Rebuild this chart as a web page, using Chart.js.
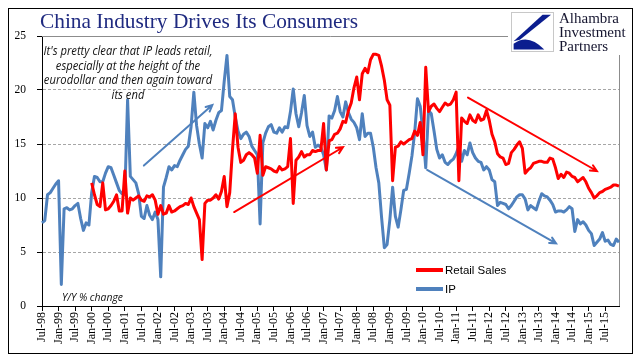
<!DOCTYPE html>
<html lang="en">
<head>
<meta charset="UTF-8">
<title>China Industry Drives Its Consumers</title>
<style>
  html, body { margin: 0; padding: 0; background: #fff; }
  canvas { display: block; }
</style>
</head>
<body>
<canvas id="chart" width="641" height="361"></canvas>
<script src="https://cdn.jsdelivr.net/npm/chart.js"></script>
<script>
// monthly categories, Jul-98 .. Dec-15
const monthNames = ['Jan','Feb','Mar','Apr','May','Jun','Jul','Aug','Sep','Oct','Nov','Dec'];
const categories = [];
for (let y = 1998; y <= 2015; y++) {
  for (let m = (y === 1998 ? 6 : 0); m < 12; m++) {
    categories.push(monthNames[m] + '-' + String(y % 100).padStart(2, '0'));
  }
}

// Y/Y % change
const industrialProduction = [
  7.7, 7.9, 10.3, 10.5, 10.9, 11.3,                                  // 1998 H2
  11.6, 2.0, 9.0, 9.1, 8.9, 9.0, 9.3, 9.5, 8.1, 7.0, 7.7, 7.5,        // 1999
  10.5, 12.0, 11.9, 11.5, 11.5, 12.3, 12.9, 12.8, 12.1, 11.4, 10.7, 10.4, // 2000
  10.3, 19.1, 12.0, 11.7, 11.4, 10.4, 8.3, 8.1, 9.3, 8.4, 8.0, 8.7,   // 2001
  8.0, 2.7, 11.0, 11.9, 12.9, 12.6, 13.0, 12.9, 13.5, 14.0, 14.5, 14.8, // 2002
  16.6, 19.8, 16.7, 15.0, 13.7, 16.9, 16.5, 17.1, 16.3, 17.2, 17.9, 18.1, // 2003
  20.8, 23.2, 19.4, 19.1, 17.5, 16.2, 15.5, 15.9, 16.1, 15.7, 14.8, 14.4, // 2004
  14.0, 7.6, 15.1, 16.0, 16.6, 16.8, 16.1, 16.0, 16.5, 16.1, 16.6, 16.5,  // 2005
  18.0, 20.1, 17.8, 16.6, 17.9, 19.5, 16.7, 15.7, 16.1, 14.7, 14.9, 14.7, // 2006
  14.0, 12.6, 17.6, 17.4, 18.1, 19.4, 18.0, 17.5, 18.9, 17.9, 17.3, 17.0, // 2007
  16.5, 15.4, 17.8, 15.7, 16.0, 16.0, 14.7, 12.8, 11.4, 8.2, 5.4, 5.7,    // 2008
  8.0, 11.0, 8.3, 7.3, 8.9, 10.7, 10.8, 12.3, 13.9, 16.1, 19.2, 18.5,     // 2009
  16.0, 12.8, 18.1, 17.8, 16.2, 14.5, 13.7, 14.0, 13.3, 13.1, 13.4, 13.6, // 2010
  14.1, 14.8, 13.4, 14.4, 14.0, 15.1, 14.2, 13.7, 13.4, 13.3, 12.6, 12.9, // 2011
  12.6, 11.7, 11.5, 9.3, 9.6, 9.5, 9.4, 9.0, 9.3, 9.7, 10.1, 10.3,        // 2012
  10.3, 9.9, 8.9, 9.3, 9.1, 8.9, 9.7, 10.4, 10.2, 10.1, 9.8, 9.4,         // 2013
  8.7, 8.8, 8.8, 8.7, 8.9, 9.2, 9.0, 6.9, 8.0, 7.6, 7.8, 7.5,             // 2014
  7.0, 6.7, 5.6, 5.9, 6.2, 6.8, 6.0, 6.1, 5.7, 5.6, 6.2, 5.9              // 2015
];

const retailSales = [
  null, null, null, null, null, null,                                   // 1998 H2
  null, null, null, null, null, null, null, null, null, null, null, null, // 1999
  11.4, 10.3, 9.4, 9.2, 11.4, 8.9, 9.0, 9.3, 9.7, 10.3, 8.8, 8.8,       // 2000
  12.5, 8.6, 10.0, 9.8, 10.0, 10.2, 9.8, 9.7, 10.2, 10.1, 10.3, 9.8,    // 2001
  8.5, 9.3, 8.5, 8.6, 9.3, 8.7, 8.8, 9.0, 9.2, 9.3, 9.5, 9.4,           // 2002
  10.0, 9.2, 8.6, 8.0, 4.3, 9.5, 9.8, 9.8, 10.0, 10.3, 9.9, 10.6,       // 2003
  12.0, 9.2, 10.5, 14.5, 17.8, 14.7, 13.3, 13.5, 14.0, 14.2, 14.0, 13.7, // 2004
  12.3, 15.8, 12.1, 12.9, 12.8, 12.7, 12.5, 12.4, 12.9, 12.6, 12.7, 12.9, // 2005
  15.5, 9.5, 13.5, 13.8, 14.3, 13.8, 14.0, 14.0, 14.4, 14.3, 14.4, 14.4,  // 2006
  16.9, 12.6, 15.3, 15.4, 15.9, 16.0, 16.4, 17.1, 17.0, 18.1, 18.8, 20.2, // 2007
  21.2, 19.1, 21.5, 22.0, 21.6, 22.8, 23.3, 23.3, 23.2, 22.2, 20.9, 19.1, // 2008
  18.6, 11.6, 14.7, 14.8, 15.2, 15.0, 15.2, 15.4, 15.5, 16.2, 15.8, 17.0, // 2009
  14.0, 22.1, 18.0, 18.5, 18.7, 18.3, 18.0, 18.4, 18.8, 18.6, 18.7, 19.1, // 2010
  19.8, 11.6, 17.4, 17.1, 16.9, 17.7, 17.2, 17.0, 17.7, 17.2, 17.3, 18.1, // 2011
  17.2, 15.9, 15.2, 14.1, 13.8, 13.7, 13.1, 13.2, 14.2, 14.5, 14.9, 15.2, // 2012
  14.6, 12.3, 12.6, 12.8, 13.2, 13.3, 13.4, 13.4, 13.3, 13.3, 13.7, 13.6, // 2013
  12.8, 11.8, 12.2, 11.9, 12.4, 12.3, 12.0, 11.9, 11.5, 11.7, 11.9, 11.5, // 2014
  10.9, 10.5, 10.0, 10.2, 10.5, 10.6, 10.8, 10.9, 11.0, 11.2, 11.2, 11.1  // 2015
];

const yTicks = [0, 5, 10, 15, 20, 25];

const RED = '#ff0000';
const BLUE = '#4f81bd';

// trend arrows, given as [month index, value]
const arrows = [
  { color: BLUE, from: [36.9, 13.0], to: [61.7, 18.6] },
  { color: RED,  from: [69.6, 8.7],  to: [109, 14.7] },
  { color: BLUE, from: [139.5, 12.6], to: [186.2, 5.8] },
  { color: RED,  from: [154.3, 19.3], to: [201, 12.5] }
];

const noteLines = [
  "It's pretty clear that IP leads retail,",
  'especially at the height of the',
  'eurodollar and then again toward',
  'its end'
];

function drawArrow(ctx, x1, y1, x2, y2, color) {
  const ang = Math.atan2(y2 - y1, x2 - x1);
  const head = 7;
  ctx.save();
  ctx.strokeStyle = color;
  ctx.lineWidth = 2;
  ctx.lineCap = 'round';
  ctx.beginPath();
  ctx.moveTo(x1, y1);
  ctx.lineTo(x2, y2);
  ctx.moveTo(x2 - head * Math.cos(ang - 0.45), y2 - head * Math.sin(ang - 0.45));
  ctx.lineTo(x2, y2);
  ctx.lineTo(x2 - head * Math.cos(ang + 0.45), y2 - head * Math.sin(ang + 0.45));
  ctx.stroke();
  ctx.restore();
}

const decorations = {
  id: 'decorations',
  beforeDatasetsDraw(chart) {
    const { ctx, chartArea: a } = chart;
    // grey plot frame, top and right
    ctx.save();
    ctx.strokeStyle = '#8c8c8c';
    ctx.lineWidth = 1;
    ctx.beginPath();
    ctx.moveTo(a.left, a.top + 0.5);
    ctx.lineTo(a.right + 0.5, a.top + 0.5);
    ctx.lineTo(a.right + 0.5, a.bottom);
    ctx.stroke();
    ctx.restore();
  },
  afterDatasetsDraw(chart) {
    const { ctx } = chart;
    const xs = chart.scales.x, ys = chart.scales.y;
    arrows.forEach(a => {
      drawArrow(ctx,
        xs.getPixelForValue(a.from[0]), ys.getPixelForValue(a.from[1]),
        xs.getPixelForValue(a.to[0]), ys.getPixelForValue(a.to[1]), a.color);
    });

    ctx.save();
    // annotation
    ctx.fillStyle = '#111';
    ctx.textAlign = 'center';
    ctx.textBaseline = 'middle';
    ctx.font = 'italic 12px "Open Sans", "Liberation Sans", sans-serif';
    const squeeze = Math.min(1, 169 / ctx.measureText(noteLines[0]).width);
    noteLines.forEach((t, i) => {
      ctx.fillText(t, 128, 52 + i * 14.5, ctx.measureText(t).width * squeeze);
    });

    // axis note
    ctx.textAlign = 'left';
    ctx.font = 'italic 11px "Open Sans", "Liberation Sans", sans-serif';
    const yy = 'Y/Y % change';
    ctx.fillText(yy, 62, 298, Math.min(61, ctx.measureText(yy).width));

    // legend
    ctx.font = '11.5px "Liberation Sans", Arial, sans-serif';
    ctx.fillStyle = '#000';
    chart.data.datasets.forEach((ds, i) => {
      const y = 270 + i * 19;
      ctx.strokeStyle = ds.borderColor;
      ctx.lineWidth = 4;
      ctx.beginPath();
      ctx.moveTo(416, y);
      ctx.lineTo(443, y);
      ctx.stroke();
      ctx.fillText(ds.label, 445, y + 0.5);
    });
    ctx.restore();
  },
  afterDraw(chart) {
    const { ctx } = chart;
    ctx.save();
    // logo sits over the plot frame
    ctx.fillStyle = '#fff';
    ctx.fillRect(508, 9, 124, 46);
    const bx = 511.5, by = 12.5, bw = 42, bh = 39;
    ctx.strokeStyle = '#c8c8c8';
    ctx.lineWidth = 1;
    ctx.strokeRect(bx, by, bw, bh);
    ctx.fillStyle = '#0b1d8f';
    ctx.beginPath();
    ctx.moveTo(bx + 0.94 * bw, by + 0.06 * bh);
    ctx.lineTo(bx + 0.74 * bw, by + 0.06 * bh);
    ctx.lineTo(bx + 0.05 * bw, by + 0.74 * bh);
    ctx.lineTo(bx + 0.2 * bw, by + 0.7 * bh);
    ctx.closePath();
    ctx.fill();
    ctx.beginPath();
    ctx.moveTo(bx + 0.05 * bw, by + 0.8 * bh);
    ctx.quadraticCurveTo(bx + 0.4 * bw, by + 0.52 * bh, bx + 0.78 * bw, by + 0.95 * bh);
    ctx.lineTo(bx + 0.05 * bw, by + 0.95 * bh);
    ctx.closePath();
    ctx.fill();

    ctx.fillStyle = '#161630';
    ctx.textAlign = 'left';
    ctx.textBaseline = 'alphabetic';
    ctx.font = '15px "Liberation Serif", "Times New Roman", serif';
    ['Alhambra', 'Investment', 'Partners'].forEach((t, i) => ctx.fillText(t, 559, 23 + i * 14));

    // title
    ctx.fillStyle = '#1f2a80';
    ctx.font = '22px "Liberation Serif", "Times New Roman", serif';
    const title = 'China Industry Drives Its Consumers';
    ctx.fillText(title, 40, 28, Math.min(318, ctx.measureText(title).width));

    // outer frame
    ctx.strokeStyle = '#000';
    ctx.lineWidth = 1;
    ctx.strokeRect(8.5, 8.5, 624, 345);
    ctx.restore();
  }
};

new Chart(document.getElementById('chart'), {
  type: 'line',
  data: {
    labels: categories,
    datasets: [
      { label: 'Retail Sales', data: retailSales, borderColor: RED, borderWidth: 3,
        pointRadius: 0, tension: 0, borderJoinStyle: 'round' },
      { label: 'IP', data: industrialProduction, borderColor: BLUE, borderWidth: 3,
        pointRadius: 0, tension: 0, borderJoinStyle: 'round' }
    ]
  },
  options: {
    responsive: false,
    animation: false,
    layout: { padding: { top: 36, right: 22, bottom: 0, left: 0 } },
    plugins: { legend: { display: false }, tooltip: { enabled: false } },
    scales: {
      x: {
        offset: false,
        grid: { drawOnChartArea: false, tickLength: 5, tickColor: '#000' },
        border: { color: '#000', width: 1 },
        ticks: {
          autoSkip: false, maxRotation: 90, minRotation: 90, padding: 1,
          color: '#000', font: { family: '"Liberation Serif", serif', size: 12 },
          callback(value) {
            const l = this.getLabelForValue(value);
            return (l.startsWith('Jan') || l.startsWith('Jul')) ? l : null;
          }
        },
        afterFit(scale) { scale.height = 55; }
      },
      y: {
        min: yTicks[0], max: yTicks[yTicks.length - 1],
        afterBuildTicks(scale) { scale.ticks = yTicks.map(v => ({ value: v })); },
        ticks: { padding: 11, color: '#000', font: { family: '"Liberation Serif", serif', size: 11.5 } },
        grid: {
          color: c => (c.tick && (c.tick.value === 0 || c.tick.value === 25)) ? 'rgba(0,0,0,0)' : '#a6a6a6',
          tickColor: '#000', tickLength: 5
        },
        border: { color: '#000', dash: [3, 2] },
        afterFit(scale) { scale.width = 42; }
      }
    }
  },
  plugins: [decorations]
});
</script>
</body>
</html>
